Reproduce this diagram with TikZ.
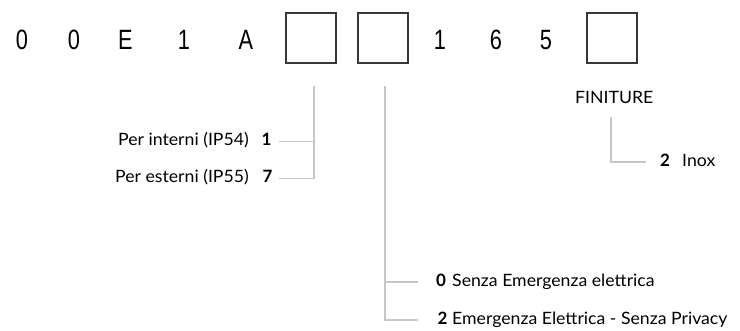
\documentclass[tikz,border=0pt]{standalone}
\usepackage{fontspec}
\setmainfont{Lato}
\newfontfamily\codefont[FakeStretch=0.78]{Liberation Sans}
\newfontfamily\lblfont[FakeStretch=1.04]{Lato}
\begin{document}
\begin{tikzpicture}[x=1pt,y=-1pt,
  codechar/.style={anchor=base,inner sep=0pt,font=\codefont\fontsize{27.9}{30}\selectfont},
  slot/.style={draw=black!78,line width=1.2pt,minimum width=50pt,minimum height=50pt,inner sep=0pt},
  lbl/.style={inner sep=0pt,font=\lblfont\fontsize{17}{20}\selectfont},
  num/.style={anchor=base,inner sep=0pt,font=\bfseries\fontsize{17}{20}\selectfont},
  conn/.style={draw=black!22,line width=1.1pt}]
\useasboundingbox (0,0) rectangle (740,331);
% top code
\node[codechar] (c1) at (22,49.3) {0};
\node[codechar] (c2) at (74,49.3) {0};
\node[codechar] (c3) at (125.5,49.3) {E};
\node[codechar] (c4) at (184,49.3) {1};
\node[codechar] (c5) at (246,49.3) {A};
\node[slot] (b1) at (311,38) {};
\node[slot] (b2) at (383,38) {};
\node[codechar] (c6) at (440,49.3) {1};
\node[codechar] (c7) at (496,49.3) {6};
\node[codechar] (c8) at (546,49.3) {5};
\node[slot] (b3) at (612,38) {};
% left group
\node[lbl,anchor=base east] (t1) at (249,146) {Per interni (IP54)};
\node[num] (n1) at (266.5,146) {1};
\node[lbl,anchor=base east] (t7) at (249,183) {Per esterni (IP55)};
\node[num] (n7) at (267.5,183) {7};
\coordinate (v1top) at (314,86);
\coordinate (v1mid) at (314,141.7);
\coordinate (v1bot) at (314,178.5);
\coordinate (e1) at (279,141.7);
\coordinate (e7) at (279,178.5);
\draw[conn] (v1top) -- (v1bot) -- (e7);
\draw[conn] (v1mid) -- (e1);
% bottom group
\node[num] (n0) at (441,287) {0};
\node[lbl,anchor=base west] (t0) at (452,287) {Senza Emergenza elettrica};
\node[num] (n2) at (442.5,325) {2};
\node[lbl,anchor=base west] (t2) at (452,325) {Emergenza Elettrica - Senza Privacy};
\coordinate (v2top) at (385,86);
\coordinate (v2mid) at (385,282);
\coordinate (v2bot) at (385,320);
\coordinate (e0) at (418,282);
\coordinate (e2) at (418,320);
\draw[conn] (v2top) -- (v2bot) -- (e2);
\draw[conn] (v2mid) -- (e0);
% finiture
\node[lbl,anchor=base west] (fin) at (575,104) {FINITURE};
\node[num] (nf) at (665,167) {2};
\node[lbl,anchor=base west] (inox) at (682,167) {Inox};
\coordinate (v3top) at (611,117);
\coordinate (v3bot) at (611,162);
\coordinate (e3) at (646,162);
\draw[conn] (v3top) -- (v3bot) -- (e3);
\end{tikzpicture}
\end{document}
